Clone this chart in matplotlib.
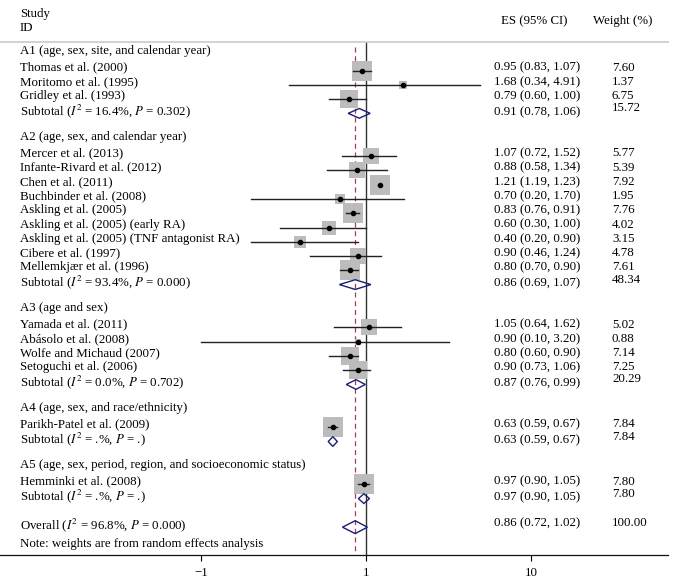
import numpy as np
import matplotlib
matplotlib.use('Agg')
import matplotlib.pyplot as plt
from matplotlib.patches import Polygon
from matplotlib.transforms import blended_transform_factory

plt.rcParams['font.family'] = ['Liberation Serif', 'DejaVu Serif']
plt.rcParams['mathtext.fontset'] = 'stix'
plt.rcParams['font.size'] = 9.3

# datos del forest plot
group_titles = [
    'A1 (age, sex, site, and calendar year)',
    'A2 (age, sex, and calendar year)',
    'A3 (age and sex)',
    'A4 (age, sex, and race/ethnicity)',
    'A5 (age, sex, period, region, and socioeconomic status)',
]
study_names = [
    ['Thomas et al. (2000)', 'Moritomo et al. (1995)', 'Gridley et al. (1993)'],
    ['Mercer et al. (2013)', 'Infante-Rivard et al. (2012)', 'Chen et al. (2011)',
     'Buchbinder et al. (2008)', 'Askling et al. (2005)', 'Askling et al. (2005) (early RA)',
     'Askling et al. (2005) (TNF antagonist RA)', 'Cibere et al. (1997)', 'Mellemkjær et al. (1996)'],
    ['Yamada et al. (2011)', 'Abásolo et al. (2008)', 'Wolfe and Michaud (2007)',
     'Setoguchi et al. (2006)'],
    ['Parikh-Patel et al. (2009)'],
    ['Hemminki et al. (2008)'],
]
study_es = [[0.95, 1.68, 0.79],
            [1.07, 0.88, 1.21, 0.70, 0.83, 0.60, 0.40, 0.90, 0.80],
            [1.05, 0.90, 0.80, 0.90],
            [0.63],
            [0.97]]
study_lo = [[0.83, 0.34, 0.60],
            [0.72, 0.58, 1.19, 0.20, 0.76, 0.30, 0.20, 0.46, 0.70],
            [0.64, 0.10, 0.60, 0.73],
            [0.59],
            [0.90]]
study_hi = [[1.07, 4.91, 1.00],
            [1.52, 1.34, 1.23, 1.70, 0.91, 1.00, 0.90, 1.24, 0.90],
            [1.62, 3.20, 0.90, 1.06],
            [0.67],
            [1.05]]
study_w = [[7.60, 1.37, 6.75],
           [5.77, 5.39, 7.92, 1.95, 7.76, 4.02, 3.15, 4.78, 7.61],
           [5.02, 0.88, 7.14, 7.25],
           [7.84],
           [7.80]]

sub_i2 = ['16.4%', '93.4%', '0.0%', '.%', '.%']
sub_p = ['0.302', '0.000', '0.702', '.', '.']
sub_es = [0.91, 0.86, 0.87, 0.63, 0.97]
sub_lo = [0.78, 0.69, 0.76, 0.59, 0.90]
sub_hi = [1.06, 1.07, 0.99, 0.67, 1.05]
sub_w = [15.72, 48.34, 20.29, 7.84, 7.80]

overall_es, overall_lo, overall_hi, overall_w = 0.86, 0.72, 1.02, 100.00
overall_i2, overall_p = '96.8%', '0.000'

tick_vals = [0.1, 1, 10]
tick_labels = ['\u22121', '1', '10']

# figura
W, H = 677, 585
fig = plt.figure(figsize=(W / 100, H / 100), dpi=100)
ax = fig.add_axes([0, 30 / H, 668 / W, 513 / H])
ax.set_xscale('log')
decade = 165.0
ax.set_xlim(10 ** (-366 / decade), 10 ** ((668 - 366) / decade))
y_bottom = 35.95
ax.set_ylim(y_bottom, 0)

for s in ['left', 'right']:
    ax.spines[s].set_visible(False)
ax.spines['top'].set_color('#cfcfcf')
ax.spines['top'].set_linewidth(1.3)
ax.spines['bottom'].set_color('#111111')
ax.spines['bottom'].set_linewidth(0.9)
ax.set_yticks([])
ax.set_xticks(tick_vals)
ax.set_xticklabels(tick_labels)
ax.minorticks_off()
ax.tick_params(axis='x', direction='out', length=4, width=0.8, pad=5, labelsize=9.3)

# lineas de referencia
ax.axvline(1, color='#333333', lw=1.0, zorder=1)
ax.vlines(overall_es, 0.35, y_bottom, colors='#a83a52', lw=0.9,
          linestyles=(0, (4, 3)), zorder=1)

xl = blended_transform_factory(fig.transFigure, ax.transData)
x_name, x_es, x_w = 20 / W, 494 / W, 612 / W
txt = dict(transform=xl, va='center', ha='left', clip_on=False)

ax.text(x_name, -1.96, 'Study', **txt)
ax.text(x_name, -0.98, 'ID', **txt)
ax.text(501 / W, -1.47, 'ES (95% CI)', **txt)
ax.text(593 / W, -1.47, 'Weight (%)', **txt)


def diamond(es, lo, hi, y, h):
    pts = [(lo, y), (es, y - h), (hi, y), (es, y + h)]
    ax.add_patch(Polygon(pts, closed=True, fill=False, edgecolor='#1c1c78',
                         lw=1.0, zorder=4))


y = 1.0
for g in range(len(group_titles)):
    ax.text(x_name, y - 0.35, group_titles[g], **txt)
    y += 1
    for name, es, lo, hi, w in zip(study_names[g], study_es[g], study_lo[g],
                                   study_hi[g], study_w[g]):
        side = 7.0 * np.sqrt(w) * 0.72
        ax.scatter([es], [y], marker='s', s=side ** 2, color='#bcbcbc',
                   linewidths=0, zorder=2)
        ax.plot([lo, hi], [y, y], color='#222222', lw=1.0, zorder=3)
        ax.plot([es], [y], 'o', color='black', ms=3, zorder=4)
        ax.text(x_name, y - 0.2, name, **txt)
        ax.text(x_es, y - 0.2, f'{es:.2f} ({lo:.2f}, {hi:.2f})', **txt)
        ax.text(x_w, y - 0.2, f'{w:.2f}', **txt)
        y += 1
    diamond(sub_es[g], sub_lo[g], sub_hi[g], y, 0.34)
    ax.text(x_name, y - 0.15,
            f'Subtotal ($I^2$ = {sub_i2[g]}, $P$ = {sub_p[g]})', **txt)
    ax.text(x_es, y - 0.1, f'{sub_es[g]:.2f} ({sub_lo[g]:.2f}, {sub_hi[g]:.2f})', **txt)
    ax.text(x_w, y - 0.35, f'{sub_w[g]:.2f}', **txt)
    y += 2

diamond(overall_es, overall_lo, overall_hi, y, 0.45)
ax.text(x_name, y - 0.15, f'Overall ($I^2$ = {overall_i2}, $P$ = {overall_p})', **txt)
ax.text(x_es, y - 0.3, f'{overall_es:.2f} ({overall_lo:.2f}, {overall_hi:.2f})', **txt)
ax.text(x_w, y - 0.3, f'{overall_w:.2f}', **txt)
ax.text(x_name, y + 1.15, 'Note: weights are from random effects analysis', **txt)

fig.savefig('out.png', dpi=100)
